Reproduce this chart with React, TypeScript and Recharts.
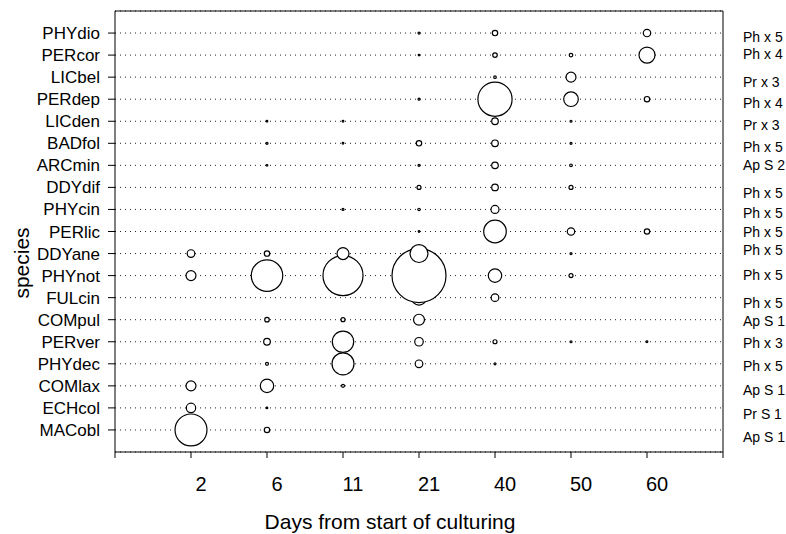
import React from "react"
import {
  ScatterChart,
  Scatter,
  XAxis,
  YAxis,
  ZAxis,
  CartesianGrid,
  ReferenceLine,
} from "recharts"

// species, top row first
const species = [
  "PHYdio", "PERcor", "LICbel", "PERdep", "LICden", "BADfol", "ARCmin",
  "DDYdif", "PHYcin", "PERlic", "DDYane", "PHYnot", "FULcin", "COMpul",
  "PERver", "PHYdec", "COMlax", "ECHcol", "MACobl",
]

const days = ["2", "6", "11", "21", "40", "50", "60"]

// text in the right margin, one per species row
const groups = [
  "Ph x 5", "Ph x 4", "Pr x 3", "Ph x 4", "Pr x 3", "Ph x 5", "Ap S 2",
  "Ph x 5", "Ph x 5", "Ph x 5", "Ph x 5", "Ph x 5", "Ph x 5", "Ap S 1",
  "Ph x 3", "Ph x 5", "Ap S 1", "Pr S 1", "Ap S 1",
]

// relative abundance per species, columns follow `days`
const abundance = [
  [0, 0, 0, 0.14, 1.0, 0, 1.9],
  [0, 0, 0, 0.08, 0.7, 0.45, 8.8],
  [0, 0, 0, 0, 0.23, 3.4, 0],
  [0, 0, 0, 0.14, 40, 7.3, 1.0],
  [0, 0.08, 0.1, 0, 1.5, 0.14, 0],
  [0, 0.14, 0.1, 1.0, 1.5, 0.14, 0],
  [0, 0.1, 0, 0.14, 1.5, 0.25, 0],
  [0, 0, 0, 0.55, 1.5, 0.55, 0],
  [0, 0, 0.14, 0.2, 2.2, 0, 0],
  [0, 0, 0, 0.08, 17.5, 1.9, 1.0],
  [2.0, 1.0, 4.9, 11, 0, 0.14, 0],
  [3.4, 34, 55, 100, 6.2, 0.55, 0],
  [0, 0, 0, 7.7, 2.0, 0, 0],
  [0, 0.7, 0.55, 4.1, 0, 0, 0],
  [0, 1.5, 15.7, 2.5, 0.55, 0.14, 0.1],
  [0, 0.3, 16.6, 2.0, 0.14, 0, 0],
  [3.4, 6.2, 0.3, 0, 0, 0, 0],
  [3.0, 0.08, 0, 0, 0, 0, 0],
  [35, 1.0, 0, 0, 0, 0, 0],
]

// small vertical nudges of the right-hand texts (px)
const groupNudge = [4, -1, 5, 4, 4, 4, 0, 6, 4, 1, -3, -1, 5, 1, 1, 2, 4, 6, 7]

const n = species.length
const rowValue = (i: number) => n - i

// bottom rows first so upper bubbles sit on top
const points: { x: number; y: number; z: number }[] = []
for (let i = n - 1; i >= 0; i--) {
  abundance[i].forEach((v, j) => {
    if (v > 0) points.push({ x: j + 1, y: rowValue(i), z: v })
  })
}

// one invisible anchor per row so the right axis has data to scale
const rowAnchors = species.map((_, i) => ({ x: 0, y: rowValue(i) }))

const yTicks = species.map((_, i) => rowValue(i)).reverse()
const xTicks = [0, ...days.map((_, j) => j + 1), days.length + 1]

const font = "'Liberation Sans', Arial, sans-serif"

const Bubble = (props: any) => {
  const { cx, cy, width } = props
  const r = Math.max((width || 0) / 2, 0.8)
  return <circle cx={cx} cy={cy} r={r} fill="#fff" stroke="#000" strokeWidth={1.2} />
}

const Nothing = () => <g />

const DayTick = (props: any) => {
  const { x, y, payload } = props
  const label = days[payload.value - 1]
  if (!label) return null
  return (
    <text x={x + 10} y={y + 33} textAnchor="middle" fontSize={20} fontFamily={font} fill="#000">
      {label}
    </text>
  )
}

const GroupTick = (props: any) => {
  const { x, y, payload } = props
  const i = n - payload.value
  if (i < 0 || i >= n) return null
  return (
    <text x={x} y={y + groupNudge[i]} dy="0.35em" textAnchor="start" fontSize={14} fontFamily={font} fill="#000">
      {groups[i]}
    </text>
  )
}

export default function App() {
  return (
    <div style={{ position: "absolute", left: 0, top: 0 }}>
      <ScatterChart
        width={786}
        height={534}
        margin={{ top: 11, right: 0, bottom: 0, left: 0 }}
        style={{ background: "#fff" }}
      >
        <CartesianGrid
          yAxisId="left"
          vertical={false}
          stroke="#222"
          strokeDasharray="1 4"
        />
        <XAxis
          type="number"
          dataKey="x"
          domain={[0, days.length + 1]}
          ticks={xTicks}
          interval={0}
          height={82}
          tickSize={6}
          tickMargin={0}
          tick={<DayTick />}
          axisLine={{ stroke: "#000" }}
          tickLine={{ stroke: "#000" }}
          label={(p: any) => {
            const vb = p.viewBox || { x: 115, width: 608, y: 452 }
            return (
              <text
                x={vb.x + vb.width / 2 - 29}
                y={529}
                textAnchor="middle"
                fontSize={21}
                fontFamily={font}
                fill="#000"
              >
                Days from start of culturing
              </text>
            )
          }}
        />
        <YAxis
          yAxisId="left"
          type="number"
          dataKey="y"
          domain={[0, n + 1]}
          ticks={yTicks}
          interval={0}
          width={115}
          tickSize={7}
          tickMargin={8}
          tickFormatter={(v: number) => species[n - v]}
          tick={{ fontSize: 17, fontFamily: font, fill: "#000" }}
          axisLine={{ stroke: "#000" }}
          tickLine={{ stroke: "#000" }}
          label={() => (
            <text
              x={21}
              y={263}
              transform="rotate(-90, 21, 263)"
              textAnchor="middle"
              dominantBaseline="central"
              fontSize={21}
              fontFamily={font}
              fill="#000"
            >
              species
            </text>
          )}
        />
        <YAxis
          yAxisId="right"
          orientation="right"
          type="number"
          dataKey="y"
          domain={[0, n + 1]}
          ticks={yTicks}
          interval={0}
          width={63}
          tickSize={0}
          tickMargin={20}
          tick={<GroupTick />}
          tickLine={false}
          axisLine={{ stroke: "#000" }}
        />
        <ZAxis type="number" dataKey="z" domain={[0, 100]} range={[0, Math.PI * 27 * 27]} />
        <ReferenceLine yAxisId="left" y={n + 1} stroke="#000" />
        <Scatter
          yAxisId="right"
          data={rowAnchors}
          shape={<Nothing />}
          isAnimationActive={false}
        />
        <Scatter
          yAxisId="left"
          data={points}
          shape={<Bubble />}
          isAnimationActive={false}
        />
      </ScatterChart>
    </div>
  )
}
